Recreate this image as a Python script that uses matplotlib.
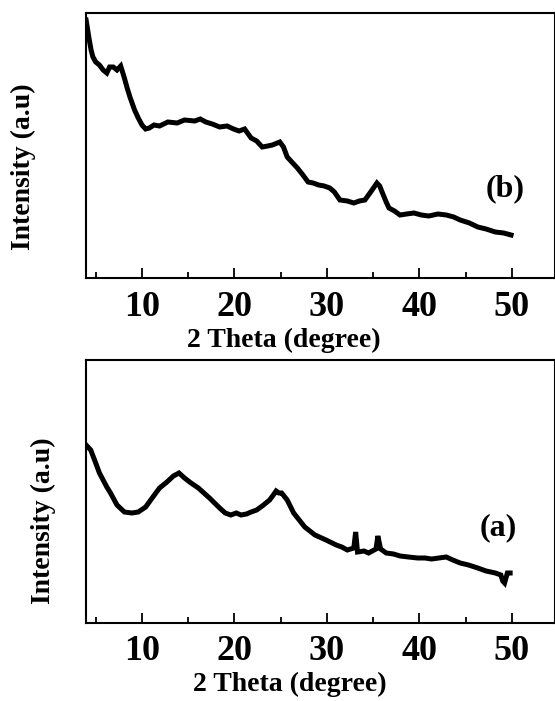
import matplotlib
matplotlib.use("Agg")
import matplotlib.pyplot as plt
from matplotlib.ticker import MultipleLocator

# ---- data (intensity in arbitrary units) ----
theta_b = [3.96, 4.1, 4.27, 4.5, 4.7, 5.0, 5.4, 5.8, 6.2, 6.5, 6.9, 7.3, 7.7, 8.1, 8.4,
           8.7, 9.2, 9.6, 10.0, 10.4, 10.8, 11.3, 11.9, 12.8, 13.8, 14.6, 15.7, 16.3,
           16.9, 17.6, 18.4, 19.2, 19.9, 20.5, 21.1, 21.8, 22.4, 23.0, 23.6, 24.1,
           24.9, 25.3, 25.7, 26.2, 26.8, 27.4, 27.96, 28.5, 29.1, 29.7, 30.3, 30.8,
           31.4, 32.2, 32.9, 33.5, 34.1, 34.8, 35.1, 35.4, 35.7, 36.0, 36.4, 36.7,
           37.3, 37.9, 38.6, 39.4, 40.2, 41.0, 42.0, 42.9, 43.7, 44.4, 45.4, 46.3,
           47.2, 48.2, 49.1, 49.9]
int_b = [258, 250, 240, 228, 221, 216, 213, 208, 205, 211, 211, 208, 212, 200, 190,
         181, 168, 160, 153, 149, 150, 153, 152, 156, 155, 158, 157, 159,
         156, 154, 151, 152, 149, 147, 149, 140, 137, 131, 132, 133,
         136, 131, 121, 116, 110, 103, 96, 95, 93, 92, 90, 86,
         78, 77, 75, 77, 78, 87, 91, 95, 92, 85, 76, 70,
         67, 63, 64, 65, 63, 62, 64, 63, 61, 58, 55, 51,
         49, 46, 45, 43]

theta_a = [3.96, 4.46, 5.0, 5.4, 5.8, 6.2, 6.6, 7.3, 8.1, 8.9, 9.6, 10.4, 11.1, 11.9,
           12.7, 13.4, 14.0, 14.6, 15.3, 16.1, 16.7, 17.3, 18.4, 19.0, 19.6, 20.2,
           20.7, 21.3, 21.8, 22.4, 23.0, 23.8, 24.2, 24.5, 24.8, 25.1, 25.7, 26.4,
           27.0, 27.6, 28.7, 29.9, 31.0, 31.6, 32.2, 32.9, 33.1, 33.3, 34.0, 34.5,
           35.3, 35.5, 35.8, 36.4, 37.2, 37.9, 38.8, 39.8, 40.6, 41.3, 42.1, 42.9,
           43.6, 44.4, 45.3, 46.3, 47.2, 48.2, 48.8, 49.0, 49.2, 49.5, 49.8]
int_a = [178, 173, 160, 150, 143, 136, 130, 118, 111, 110, 111, 116, 125, 135,
         141, 147, 150, 145, 140, 135, 130, 125, 115, 110, 108, 110,
         108, 109, 111, 113, 117, 123, 128, 132, 130, 130, 123, 110,
         103, 96, 88, 83, 78, 76, 73, 75, 91, 71, 72, 70,
         74, 87, 74, 70, 69, 67, 66, 65, 65, 64, 65, 66,
         63, 60, 58, 55, 52, 50, 48, 42, 40, 50, 50]

xticks_major = [10, 20, 30, 40, 50]
xlabel = "2 Theta (degree)"
ylabel = "Intensity (a.u)"
panel_b = "(b)"
panel_a = "(a)"

W, H = 555, 701
fig = plt.figure(figsize=(W / 100, H / 100), dpi=100)
plt.rcParams['font.family'] = ['Liberation Serif', 'DejaVu Serif']

def fx(px):
    return px / W

def fy(py):
    return 1 - py / H

def make_ax(top_px, bot_px, x, y, ylim_top):
    ax = fig.add_axes([fx(86), fy(bot_px), 1 - fx(86), (bot_px - top_px) / H])
    ax.plot(x, y, color='black', lw=3.6, solid_joinstyle='miter')
    ax.set_xlim(3.95, 54.65)
    ax.set_ylim(0, ylim_top)
    ax.set_yticks([])
    ax.set_xticks(xticks_major)
    ax.xaxis.set_minor_locator(MultipleLocator(5))
    ax.tick_params(axis='x', which='major', direction='in', length=7, width=1.3,
                   pad=9, labelsize=26)
    ax.tick_params(axis='x', which='minor', direction='in', length=4, width=1.3)
    for lab in ax.get_xticklabels():
        lab.set_fontweight('bold')
    for s in ax.spines.values():
        s.set_linewidth(1.5)
    return ax

ax_b = make_ax(13, 278, theta_b, int_b, 265)
ax_a = make_ax(360, 623, theta_a, int_a, 263)

fig.text(fx(284), fy(340), xlabel, ha='center', va='center', fontsize=20, fontweight='bold')
fig.text(fx(290), fy(684), xlabel, ha='center', va='center', fontsize=20, fontweight='bold')
fig.text(fx(23), fy(167), ylabel, ha='center', va='center', rotation=90, fontsize=20, fontweight='bold')
fig.text(fx(43), fy(521), ylabel, ha='center', va='center', rotation=90, fontsize=20, fontweight='bold')
fig.text(fx(505), fy(189), panel_b, ha='center', va='center', fontsize=23, fontweight='bold')
fig.text(fx(498), fy(528), panel_a, ha='center', va='center', fontsize=23, fontweight='bold')

fig.savefig("out.png", dpi=100)
